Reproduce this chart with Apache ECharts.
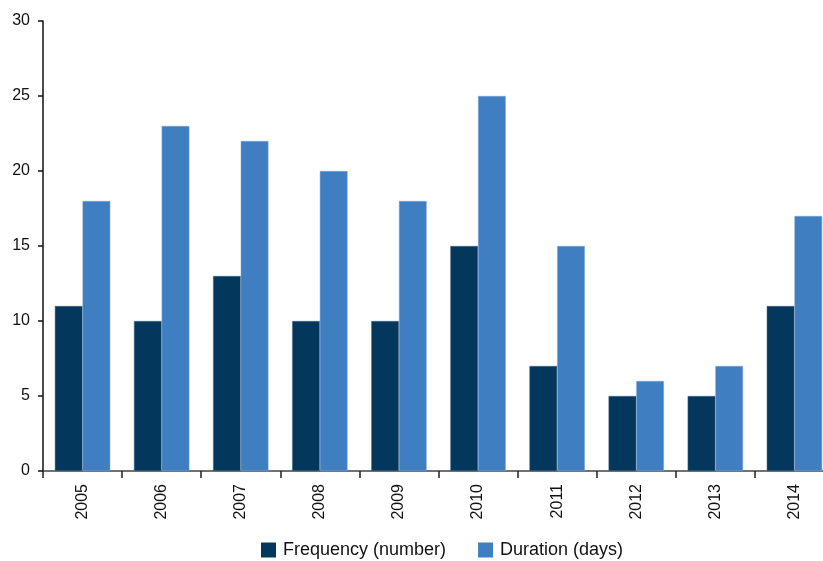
<!DOCTYPE html>
<html>
<head>
<meta charset="utf-8">
<script src="https://cdn.jsdelivr.net/npm/echarts@6/dist/echarts.min.js"></script>
<style>
  html, body { margin: 0; padding: 0; background: #fff; }
  #chart { width: 823px; height: 561px; }
</style>
</head>
<body>
<div id="chart"></div>
<script>
// Yearly frequency and duration
const years = ['2005', '2006', '2007', '2008', '2009', '2010', '2011', '2012', '2013', '2014'];
const frequency = [11, 10, 13, 10, 10, 15, 7, 5, 5, 11];
const duration = [18, 23, 22, 20, 18, 25, 15, 6, 7, 17];
const yTicks = [0, 5, 10, 15, 20, 25, 30];

const font = 'Liberation Sans, Arial, sans-serif';
const chart = echarts.init(document.getElementById('chart'));

chart.setOption({
  animation: false,
  textStyle: { fontFamily: font },
  // the plot runs slightly past the right edge of the canvas
  grid: { left: 43, width: 791, top: 21, height: 450, containLabel: false, outerBoundsMode: 'none' },
  legend: {
    top: 536,
    left: 256,
    itemWidth: 15,
    itemHeight: 15,
    itemGap: 32,
    icon: 'rect',
    itemStyle: { borderWidth: 0 },
    textStyle: { fontSize: 18, color: '#111', fontFamily: font, padding: [0, 0, 0, 2] },
    data: ['Frequency (number)', 'Duration (days)']
  },
  xAxis: {
    type: 'category',
    data: years,
    axisLine: { lineStyle: { color: '#444', width: 1.5 } },
    axisTick: { show: true, length: 7, lineStyle: { color: '#222', width: 1.5 } },
    axisLabel: { rotate: 90, fontSize: 16, color: '#111', margin: 13, fontFamily: font }
  },
  yAxis: {
    type: 'value',
    min: yTicks[0],
    max: yTicks[yTicks.length - 1],
    interval: 5,
    splitLine: { show: false },
    axisLine: { show: true, lineStyle: { color: '#111', width: 1.5 } },
    axisTick: { show: true, length: 5, lineStyle: { color: '#111', width: 1.5 } },
    axisLabel: { fontSize: 16, color: '#111', margin: 13, fontFamily: font }
  },
  series: [
    {
      name: 'Frequency (number)',
      type: 'bar',
      data: frequency,
      barGap: '0%',
      barCategoryGap: '30%',
      itemStyle: { color: '#03375C', borderColor: '#47698a', borderWidth: 0.5 }
    },
    {
      name: 'Duration (days)',
      type: 'bar',
      data: duration,
      itemStyle: { color: '#3F7EC1', borderColor: '#7ea6d6', borderWidth: 0.5 }
    }
  ]
});
</script>
</body>
</html>
